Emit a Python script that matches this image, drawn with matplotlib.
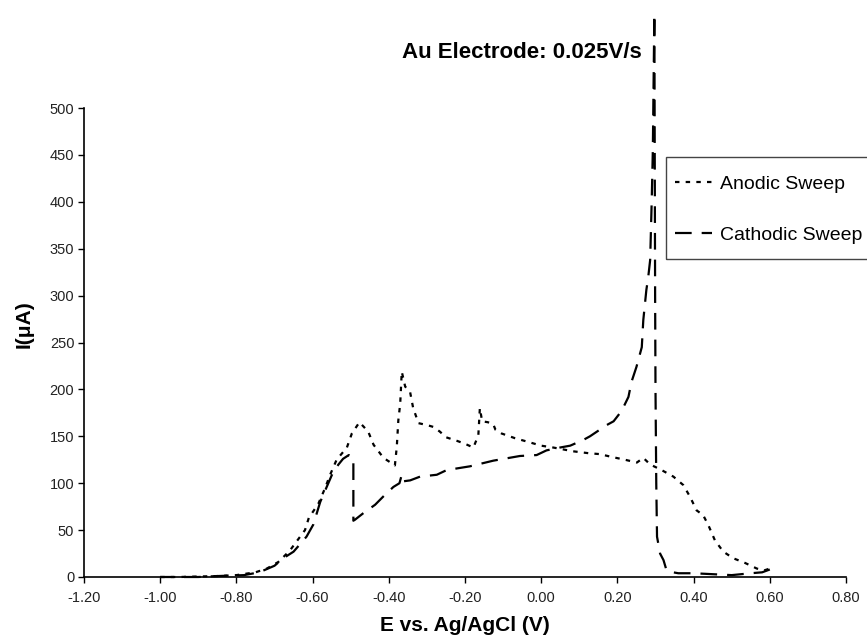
import numpy as np
import matplotlib
matplotlib.use('Agg')
import matplotlib.pyplot as plt
from matplotlib.patches import Rectangle
from matplotlib.lines import Line2D

plt.rcParams['font.family'] = ['Liberation Sans', 'DejaVu Sans']

#anodic sweep, -1.0 V -> 0.6 V
anodic_E = [-1.00, -0.95, -0.90, -0.85, -0.80, -0.75, -0.72, -0.69, -0.66, -0.62,
            -0.61, -0.585, -0.567, -0.554, -0.537, -0.51, -0.497, -0.477, -0.454, -0.44,
            -0.414, -0.384, -0.379, -0.375, -0.37, -0.366, -0.357, -0.344, -0.336, -0.322,
            -0.30, -0.283, -0.266, -0.25, -0.22, -0.20, -0.178, -0.165, -0.161, -0.155,
            -0.14, -0.126, -0.12, -0.104, -0.069, -0.034, 0.0, 0.032, 0.084, 0.124,
            0.154, 0.185, 0.22, 0.251, 0.268, 0.286, 0.316, 0.347, 0.373, 0.39,
            0.408, 0.425, 0.439, 0.456, 0.478, 0.504, 0.535, 0.566, 0.585, 0.60]
anodic_I = [0, 0, 0.5, 1, 2, 5, 9, 16, 28, 50,
            63, 78, 95, 109, 125, 138, 153, 165, 155, 141,
            127, 119, 139, 167, 185, 219, 203, 197, 180, 164,
            162, 160, 155, 149, 145, 142, 138, 151, 180, 166,
            165, 163, 157, 153, 148, 144, 140, 138, 134, 132,
            131, 128, 125, 122, 127, 120, 114, 107, 98, 86,
            71, 66, 55, 39, 27, 20, 15, 9, 7, 9]

#cathodic sweep, 0.6 V -> -1.0 V
cathodic_E = [0.60, 0.58, 0.55, 0.50, 0.45, 0.40, 0.36, 0.346, 0.329, 0.321,
              0.312, 0.304, 0.302, 0.300, 0.299, 0.298, 0.297, 0.293, 0.29, 0.286,
              0.281, 0.276, 0.268, 0.264, 0.25, 0.237, 0.229, 0.211, 0.19, 0.172,
              0.128, 0.11, 0.076, 0.049, 0.014, -0.012, -0.056, -0.126, -0.187, -0.248,
              -0.274, -0.318, -0.344, -0.362, -0.366, -0.372, -0.388, -0.414, -0.436, -0.467,
              -0.489, -0.493, -0.493, -0.505, -0.52, -0.532, -0.546, -0.563, -0.58, -0.598,
              -0.616, -0.65, -0.677, -0.70, -0.74, -0.78, -0.85, -0.90, -1.00]
cathodic_I = [8, 5, 4, 2, 3, 4, 4, 5, 7, 18,
              25, 43, 100, 200, 300, 450, 600, 455, 400, 338,
              320, 306, 274, 245, 224, 208, 192, 177, 166, 162,
              150, 146, 140, 138, 135, 130, 129, 124, 118, 114,
              109, 107, 103, 102, 109, 100, 96, 86, 77, 68,
              61, 60, 127, 130, 126, 120, 112, 96, 80, 56,
              43, 27, 20, 12, 5, 2, 1, 0, 0]

x_ticks = [-1.2, -1.0, -0.8, -0.6, -0.4, -0.2, 0.0, 0.2, 0.4, 0.6, 0.8]
y_ticks = [0, 50, 100, 150, 200, 250, 300, 350, 400, 450, 500]

anodic_dash = (2.0, 2.8)
cathodic_dash = (7.5, 4.5)

W, H = 867, 638
fig = plt.figure(figsize=(W/100, H/100), dpi=100)
ax = fig.add_axes([84/W, 1-577/H, (846-84)/W, (577-108)/H])

ax.plot(anodic_E, anodic_I, color='k', lw=1.6, dashes=anodic_dash, clip_on=False)
ax.plot(cathodic_E, cathodic_I, color='k', lw=1.6, dashes=cathodic_dash, clip_on=False)

ax.set_xlim(-1.2, 0.8)
ax.set_ylim(0, 500)
ax.set_xticks(x_ticks)
ax.set_xticklabels([f'{t:.2f}' for t in x_ticks])
ax.set_yticks(y_ticks)
ax.spines['top'].set_visible(False)
ax.spines['right'].set_visible(False)
for s in ['left', 'bottom']:
    ax.spines[s].set_linewidth(1.2)
ax.tick_params(direction='out', length=4, width=1, labelsize=10.5, labelcolor='#222222')
ax.tick_params(axis='x', pad=6)
ax.tick_params(axis='y', pad=3)

ax.set_xlabel('E vs. Ag/AgCl (V)', fontsize=15, fontweight='bold')
ax.set_ylabel('I(\u03bcA)', fontsize=15, fontweight='bold')
ax.xaxis.set_label_coords(0.5, -0.084)
ax.yaxis.set_label_coords(-0.066, 0.54)

fig.text(522/W, 1-53/H, 'Au Electrode: 0.025V/s', fontsize=16, fontweight='bold',
         ha='center', va='center')

#legend box drawn by hand so the frame runs off the right edge
fig.patches.append(Rectangle((666/W, 1-259/H), 210/W, 102/H, transform=fig.transFigure,
                             fill=False, edgecolor='#444444', lw=1))
handles = [Line2D([], [], color='k', lw=1.6, dashes=anodic_dash),
           Line2D([], [], color='k', lw=1.6, dashes=cathodic_dash)]
fig.legend(handles, ['Anodic Sweep', 'Cathodic Sweep'], loc='upper left',
           bbox_to_anchor=(675/W, 1-175/H), frameon=False, fontsize=14,
           handlelength=1.9, handletextpad=0.4, labelspacing=1.75,
           borderpad=0, borderaxespad=0)

plt.savefig('out.png', dpi=100)
